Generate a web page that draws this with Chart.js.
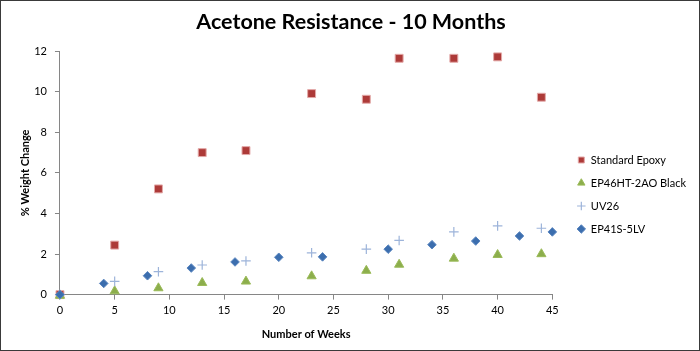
<!DOCTYPE html>
<html>
<head>
<meta charset="utf-8">
<script src="https://cdn.jsdelivr.net/npm/chart.js@4/dist/chart.umd.min.js"></script>
<style>
  html, body { margin: 0; padding: 0; background: #fff; }
  #wrap { width: 700px; height: 351px; position: relative; }
</style>
</head>
<body>
<div id="wrap"><canvas id="c" width="700" height="351"></canvas></div>
<script>
// ---- Data ----
const standardWeeks = [0, 5, 9, 13, 17, 23, 28, 31, 36, 40, 44];
const standardEpoxy = [0, 2.44, 5.21, 7.0, 7.1, 9.91, 9.63, 11.65, 11.65, 11.72, 9.73];

const ep46Weeks = [0, 5, 9, 13, 17, 23, 28, 31, 36, 40, 44];
const ep46Black = [-0.05, 0.17, 0.32, 0.58, 0.65, 0.91, 1.18, 1.48, 1.78, 1.96, 2.0];

const uv26Weeks = [0, 5, 9, 13, 17, 23, 28, 31, 36, 40, 44];
const uv26 = [0, 0.65, 1.13, 1.46, 1.66, 2.06, 2.24, 2.67, 3.09, 3.39, 3.27];

const ep41Weeks = [0, 4, 8, 12, 16, 20, 24, 30, 34, 38, 42, 45];
const ep41 = [0, 0.55, 0.93, 1.31, 1.61, 1.84, 1.86, 2.24, 2.46, 2.64, 2.89, 3.09];

const seriesNames = ['Standard Epoxy', 'EP46HT-2AO Black', 'UV26', 'EP41S-5LV'];
const xTicks = [0, 5, 10, 15, 20, 25, 30, 35, 40, 45];
const yTicks = [0, 2, 4, 6, 8, 10, 12];

const toPts = (xs, ys) => xs.map((x, i) => ({ x: x, y: ys[i] }));

const FONT = 'Lato, "Open Sans", sans-serif';
const AXIS = '#868686';

const framePlugin = {
  id: 'frame',
  afterLayout(chart) {
    // nudge the legend block to the right/down, as in the reference
    const lg = chart.legend;
    if (lg) {
      lg.left += 13; lg.right += 13;
      lg.top += 24; lg.bottom += 24;
    }
  },
  beforeDraw(chart) {
    const ctx = chart.ctx;
    ctx.save();
    ctx.fillStyle = '#fff';
    ctx.fillRect(0, 0, chart.width, chart.height);
    ctx.restore();
  },
  afterDraw(chart) {
    const ctx = chart.ctx;
    ctx.save();
    ctx.strokeStyle = '#3a3a3a';
    ctx.lineWidth = 1;
    ctx.strokeRect(0.5, 0.5, chart.width - 1, chart.height - 1);
    ctx.restore();
  }
};

new Chart(document.getElementById('c'), {
  type: 'scatter',
  data: {
    datasets: [
      {
        label: seriesNames[0],
        data: toPts(standardWeeks, standardEpoxy),
        pointStyle: 'rect',
        pointRadius: 5.6,
        pointHoverRadius: 5.6,
        backgroundColor: '#AD3A38',
        borderColor: '#E3A9A8',
        borderWidth: 1,
        clip: false,
        order: 4
      },
      {
        label: seriesNames[1],
        data: toPts(ep46Weeks, ep46Black),
        pointStyle: 'triangle',
        pointRadius: 5.3,
        pointHoverRadius: 5.3,
        backgroundColor: '#8CAE4C',
        borderColor: '#9BBB59',
        borderWidth: 1,
        clip: false,
        order: 3
      },
      {
        label: seriesNames[2],
        data: toPts(uv26Weeks, uv26),
        pointStyle: 'cross',
        pointRadius: 4.8,
        pointHoverRadius: 4.8,
        backgroundColor: '#9DB4DA',
        borderColor: '#9DB4DA',
        borderWidth: 1.2,
        clip: false,
        order: 2
      },
      {
        label: seriesNames[3],
        data: toPts(ep41Weeks, ep41),
        pointStyle: 'rectRot',
        pointRadius: 4.3,
        pointHoverRadius: 4.3,
        backgroundColor: '#3C6EAE',
        borderColor: '#5A86C0',
        borderWidth: 1,
        clip: false,
        order: 1
      }
    ]
  },
  options: {
    responsive: false,
    animation: false,
    devicePixelRatio: 1,
    layout: { padding: { left: 19, right: 17, top: 0, bottom: 10 } },
    plugins: {
      title: {
        display: true,
        text: 'Acetone Resistance - 10 Months',
        color: '#000',
        font: { family: FONT, size: 21.5, weight: 'bold' },
        padding: { top: 9, bottom: 16.4 }
      },
      legend: {
        display: true,
        position: 'right',
        align: 'center',
        labels: {
          usePointStyle: true,
          boxWidth: 8,
          boxHeight: 6,
          color: '#000',
          padding: 12,
          font: { family: FONT, size: 11 },
          sort: (a, b) => a.datasetIndex - b.datasetIndex
        }
      },
      tooltip: { enabled: false }
    },
    scales: {
      x: {
        type: 'linear',
        min: 0,
        max: 45,
        afterBuildTicks(scale) { scale.ticks = xTicks.map(v => ({ value: v })); },
        ticks: { color: '#000', font: { family: FONT, size: 11 }, padding: 4, maxRotation: 0 },
        border: { display: true, color: AXIS, width: 1 },
        grid: { display: true, drawOnChartArea: false, drawTicks: true, tickLength: 5, color: AXIS },
        title: {
          display: true,
          text: 'Number of Weeks',
          color: '#000',
          font: { family: FONT, size: 11, weight: 'bold' },
          padding: { top: 7, bottom: 0 }
        }
      },
      y: {
        type: 'linear',
        min: 0,
        max: 12,
        afterBuildTicks(scale) { scale.ticks = yTicks.map(v => ({ value: v })); },
        afterFit(scale) { scale.width -= 11; },
        ticks: { color: '#000', font: { family: FONT, size: 11 }, padding: 8 },
        border: { display: true, color: AXIS, width: 1 },
        grid: { display: true, drawOnChartArea: false, drawTicks: true, tickLength: 5, color: AXIS },
        title: {
          display: true,
          text: '% Weight Change',
          color: '#000',
          font: { family: FONT, size: 11, weight: 'bold' },
          padding: { top: 0, bottom: 5 }
        }
      }
    }
  },
  plugins: [framePlugin]
});
</script>
</body>
</html>
